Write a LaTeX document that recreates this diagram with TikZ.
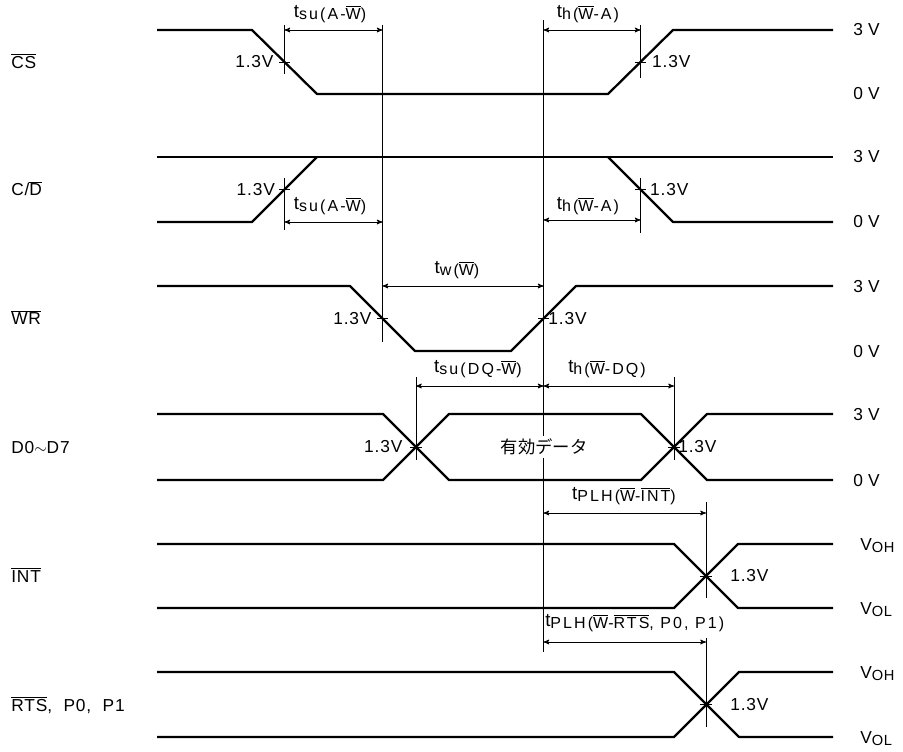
\documentclass[tikz,border=0pt]{standalone}
\usepackage{fontspec}
\setmainfont{Liberation Sans}[LetterSpace=5]
\newfontfamily\jpfont{Noto Sans CJK JP}
\usetikzlibrary{arrows}
\newcommand\ovl[1]{$\overline{\mbox{#1}}$}
\newcommand\tlab[2]{{\fontsize{14}{16}\selectfont t}\raisebox{-0.2ex}{\fontsize{12}{14}\selectfont\addfontfeature{LetterSpace=13}#1(#2)}}
\newcommand\vlab[1]{V\raisebox{-0.25ex}{\fontsize{11}{13}\selectfont #1}}

\begin{document}
\begin{tikzpicture}[x=0.75pt, y=-0.75pt, font=\fontsize{13}{15}\selectfont]
    \tikzstyle{sig}=[line width=1.7pt, line join=round]
    \tikzset{guide/.style={line width=0.6pt}, dim/.style={line width=0.6pt, >=stealth', <->}, lab/.style={inner sep=0pt}}
    \useasboundingbox (0,0) rectangle (903,752);

    \coordinate (cs1) at (284.5,62);
    \coordinate (cs2) at (640.5,62);
    \coordinate (cd1) at (284.5,189.5);
    \coordinate (cd2) at (640.5,189.5);
    \coordinate (wr1) at (382.5,318.5);
    \coordinate (wr2) at (543.5,318.5);
    \coordinate (d1) at (416,447);
    \coordinate (d2) at (674,447);
    \coordinate (int) at (706,576);
    \coordinate (rts) at (706,704.5);

    % signal names
    \node[lab, anchor=base west] (ncs) at (11,68.5) {\ovl{CS}};
    \node[lab, anchor=base west] (ncd) at (11,196) {C/\ovl{D}};
    \node[lab, anchor=base west] (nwr) at (11,325) {\ovl{WR}};
    \node[lab, anchor=base west] (nd) at (11,453.5) {D0$\sim$D7};
    \node[lab, anchor=base west] (nint) at (11,582.5) {\ovl{INT}};
    \node[lab, anchor=base west] (nrts) at (11,711) {\ovl{RTS},\ \ P0,\ \ P1};

    % waveforms
    \draw[sig] (157,30) -- (252,30) -- (317,94) -- (608,94) -- (673,30) -- (833,30);
    \draw[sig] (157,157) -- (833,157);
    \draw[sig] (157,222) -- (252,222) -- (317,157);
    \draw[sig] (608,157) -- (673,222) -- (833,222);
    \draw[sig] (157,286) -- (350,286) -- (415,351) -- (511,351) -- (576,286) -- (833,286);
    \draw[sig] (157,414) -- (383,414) -- (449,480) -- (641,480) -- (707,414) -- (833,414);
    \draw[sig] (157,480) -- (383,480) -- (449,414) -- (641,414) -- (707,480) -- (833,480);
    \draw[sig] (157,544) -- (674,544) -- (738,608) -- (833,608);
    \draw[sig] (157,608) -- (674,608) -- (738,544) -- (833,544);
    \draw[sig] (157,672) -- (674,672) -- (739,737) -- (833,737);
    \draw[sig] (157,737) -- (674,737) -- (739,672) -- (833,672);

    % guide lines and 1.3V marks
    \draw[guide] (cs1 |- 0,25) -- (cs1 |- 0,74) ([xshift=-4pt]cs1) -- ([xshift=4pt]cs1);
    \draw[guide] (cs2 |- 0,25) -- (cs2 |- 0,78) ([xshift=-4pt]cs2) -- ([xshift=4pt]cs2);
    \draw[guide] (cd1 |- 0,178) -- (cd1 |- 0,230) ([xshift=-4pt]cd1) -- ([xshift=4pt]cd1);
    \draw[guide] (cd2 |- 0,178) -- (cd2 |- 0,233) ([xshift=-4pt]cd2) -- ([xshift=4pt]cd2);
    \draw[guide] (wr1 |- 0,25) -- (wr1 |- 0,342) ([xshift=-4pt]wr1) -- ([xshift=4pt]wr1);
    \draw[guide] (wr2 |- 0,20) -- (wr2 |- 0,652) ([xshift=-4pt]wr2) -- ([xshift=4pt]wr2);
    \draw[guide] (d1 |- 0,377) -- (d1 |- 0,460) ([xshift=-4.5pt]d1) -- ([xshift=4.5pt]d1);
    \draw[guide] (d2 |- 0,377) -- (d2 |- 0,460) ([xshift=-4.5pt]d2) -- ([xshift=4.5pt]d2);
    \draw[guide] (int |- 0,502) -- (int |- 0,598) ([xshift=-4.5pt]int) -- ([xshift=4.5pt]int);
    \draw[guide] (rts |- 0,638) -- (rts |- 0,727) ([xshift=-4.5pt]rts) -- ([xshift=4.5pt]rts);

    \node[lab, anchor=east] (v13a) at ([xshift=-8pt]cs1) {1.3V};
    \node[lab, anchor=west] (v13b) at ([xshift=8.5pt]cs2) {1.3V};
    \node[lab, anchor=east] (v13c) at ([xshift=-7pt]cd1) {1.3V};
    \node[lab, anchor=west] (v13d) at ([xshift=7pt]cd2) {1.3V};
    \node[lab, anchor=east] (v13e) at ([xshift=-8pt]wr1) {1.3V};
    \node[lab, anchor=west] (v13f) at ([xshift=3.5pt]wr2) {1.3V};
    \node[lab, anchor=east] (v13g) at ([xshift=-10pt]d1) {1.3V};
    \node[lab, anchor=west] (v13h) at ([xshift=3pt]d2) {1.3V};
    \node[lab, anchor=west] (v13i) at ([xshift=18pt]int) {1.3V};
    \node[lab, anchor=west] (v13j) at ([xshift=18pt]rts) {1.3V};

    \node[fill=white, inner sep=2pt] (valid) at (544,447) {\jpfont 有効データ};

    % timing arrows
    \draw[dim] (cs1 |- 0,30) -- (wr1 |- 0,30);
    \draw[dim] (wr2 |- 0,30) -- (cs2 |- 0,30);
    \draw[dim] (cd1 |- 0,222) -- (wr1 |- 0,222);
    \draw[dim] (wr2 |- 0,220) -- (cd2 |- 0,220);
    \draw[dim] (wr1 |- 0,286) -- (wr2 |- 0,286);
    \draw[dim] (d1 |- 0,386) -- (wr2 |- 0,386);
    \draw[dim] (wr2 |- 0,386) -- (d2 |- 0,386);
    \draw[dim] (wr2 |- 0,513) -- (int |- 0,513);
    \draw[dim] (wr2 |- 0,642) -- (rts |- 0,642);

    \node[lab] (tsu1) at (330,14) {\tlab{su}{A-\ovl{W}}};
    \node[lab] (th1) at (588,14) {\tlab{h}{\ovl{W}-A}};
    \node[lab] (tsu2) at (330,206) {\tlab{su}{A-\ovl{W}}};
    \node[lab] (th2) at (588,206) {\tlab{h}{\ovl{W}-A}};
    \node[lab] (tw) at (457,270) {\tlab{w}{\ovl{W}}};
    \node[lab] (tsu3) at (478,369) {\tlab{su}{DQ-\ovl{W}}};
    \node[lab] (th3) at (607,369) {\tlab{h}{\ovl{W}-DQ}};
    \node[lab] (tp1) at (624,496) {\tlab{PLH}{\ovl{W}-\ovl{INT}}};
    \node[lab, anchor=west] (tp2) at (545,623) {\tlab{PLH}{\ovl{W}-\ovl{RTS}, P0, P1}};

    % levels
    \node[lab, anchor=base west] (l1) at (853,36) {3\hspace{0.3em}V};
    \node[lab, anchor=base west] (l2) at (853,100) {0\hspace{0.3em}V};
    \node[lab, anchor=base west] (l3) at (853,163) {3\hspace{0.3em}V};
    \node[lab, anchor=base west] (l4) at (853,228) {0\hspace{0.3em}V};
    \node[lab, anchor=base west] (l5) at (853,292) {3\hspace{0.3em}V};
    \node[lab, anchor=base west] (l6) at (853,357) {0\hspace{0.3em}V};
    \node[lab, anchor=base west] (l7) at (853,420) {3\hspace{0.3em}V};
    \node[lab, anchor=base west] (l8) at (853,486) {0\hspace{0.3em}V};
    \node[lab, anchor=base west] (l9) at (860,550) {\vlab{OH}};
    \node[lab, anchor=base west] (l10) at (860,614) {\vlab{OL}};
    \node[lab, anchor=base west] (l11) at (860,678) {\vlab{OH}};
    \node[lab, anchor=base west] (l12) at (860,743) {\vlab{OL}};
\end{tikzpicture}
\end{document}
